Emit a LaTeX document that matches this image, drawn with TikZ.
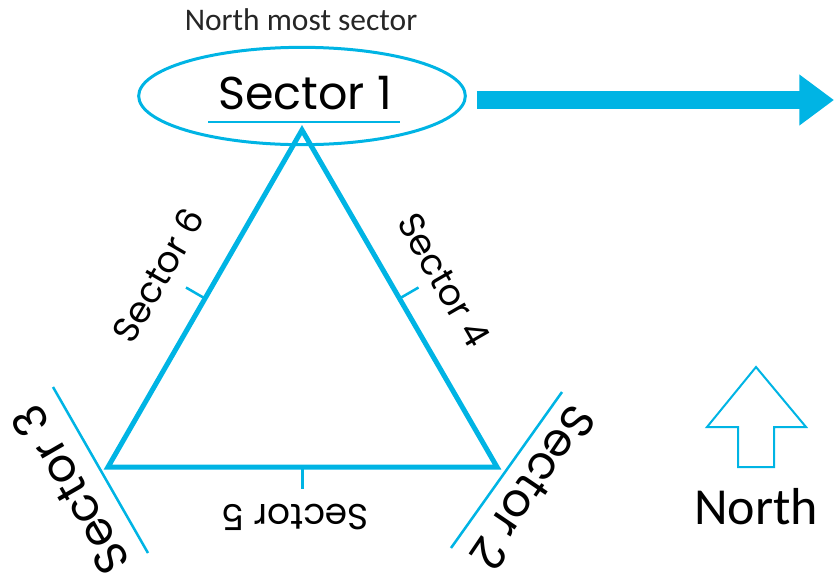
\documentclass[tikz,border=0pt]{standalone}
\usepackage{fontspec}
\setmainfont{Carlito}
\newfontfamily\geofont{Poppins}
\usetikzlibrary{arrows.meta,calc,shapes.geometric,positioning}
\definecolor{skyblue}{RGB}{0,180,228}
\tikzset{edge/.style={draw=skyblue, line width=3.75pt}}
\tikzstyle{notch}=[draw=skyblue, line width=1.9pt]
\tikzstyle{bigsec}=[font=\geofont\fontsize{34.5}{40}\selectfont, inner sep=0pt]
\tikzstyle{smallsec}=[font=\geofont\fontsize{27}{32}\selectfont, inner sep=0pt]

\begin{document}
\begin{tikzpicture}[x=0.75pt, y=-0.75pt]
\useasboundingbox (0,0) rectangle (834,579);
% corners of the triangle
\coordinate (V0) at (302,130);
\coordinate (V1) at (108,467);
\coordinate (V2) at (497,467);
\coordinate (E) at (834,100);

\node[font=\fontsize{23.6}{28}\selectfont, text=black!85] (head) at (301,20) {North most sector};
\node[ellipse, draw=skyblue, line width=2.25pt, minimum width=245pt, minimum height=73pt, inner sep=0pt] (ring) at (302,96) {};
\node[bigsec] (L1) at (305,93) {Sector 1};
\draw[notch] (208,122) -- (400,122);
\draw[skyblue, line width=13.5pt, -{Triangle[length=26pt, width=36.5pt]}, shorten <=7.5pt] (ring.east |- E) -- (E);

\draw[edge] (V0) -- (V2) -- (V1) -- cycle;

% marks in the middle of the sides
\coordinate (M6) at ($(V0)!0.5!(V1)$);
\coordinate (M4) at ($(V0)!0.5!(V2)$);
\coordinate (M5) at ($(V1)!0.5!(V2)$);
\draw[notch] (M6) -- ++(-19,-11);
\draw[notch] (M4) -- ++(19,-11);
\draw[notch] (M5) -- ++(0,22);

% lines through the lower corners
\coordinate (G3a) at (53,387);
\coordinate (G3b) at (148,553);
\coordinate (G2a) at (562,392);
\coordinate (G2b) at (451,548);
\draw[notch] (G3a) -- (G3b);
\draw[notch] (G2a) -- (G2b);

\node[bigsec, rotate=-124] (L2) at (533,488) {Sector 2};
\node[bigsec, rotate=120] (L3) at (70,490) {Sector 3};
\node[smallsec, rotate=-60] (L4) at (444,280) {Sector 4};
\node[smallsec, rotate=180] (L5) at (295,517) {Sector 5};
\node[smallsec, rotate=60] (L6) at (158,275) {Sector 6};

% north sign
\draw[skyblue, line width=1.5pt] (756,367) -- (806,427) -- (774,427) -- (774,467) -- (738,467) -- (738,427) -- (707,427) -- cycle;
\node[font=\fontsize{39}{44}\selectfont] (N) at (756,507) {North};
\end{tikzpicture}
\end{document}
